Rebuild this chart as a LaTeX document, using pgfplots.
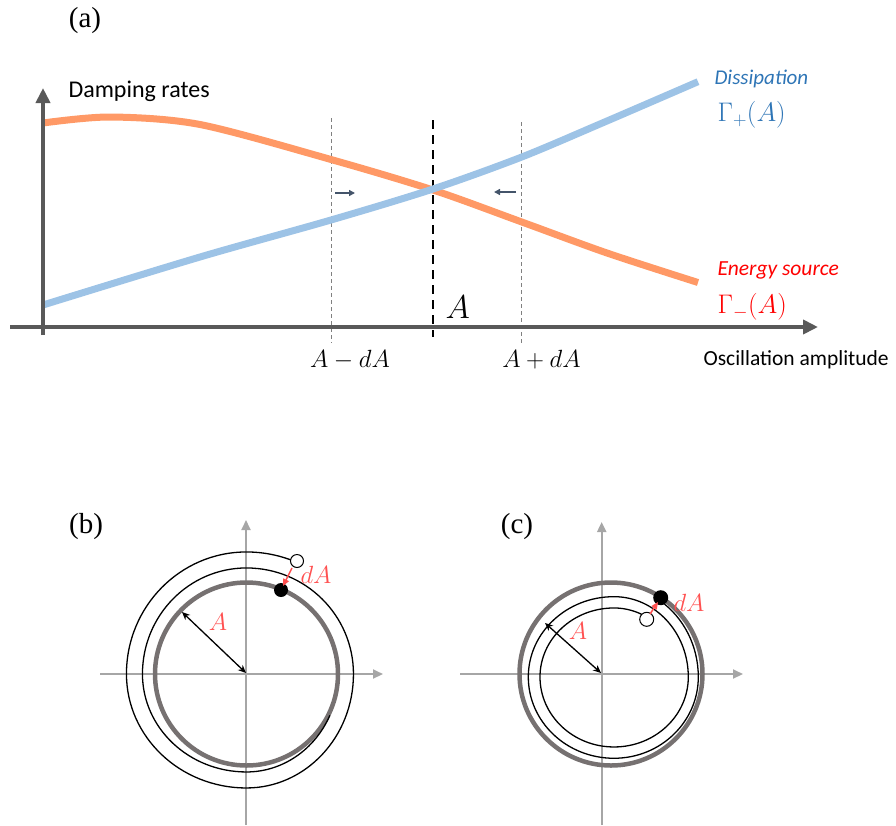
\documentclass[border=0pt]{standalone}
\usepackage{fontspec}
\setmainfont{Liberation Serif}
\newfontfamily\calibri{Carlito}
\usepackage{graphicx}
\usepackage{pgfplots}
\pgfplotsset{compat=1.18}
\usetikzlibrary{arrows.meta}

\definecolor{axdark}{RGB}{89,89,89}
\definecolor{orangec}{RGB}{255,153,102}
\definecolor{bluec}{RGB}{157,195,230}
\definecolor{bluetxt}{RGB}{46,117,182}
\definecolor{redtxt}{RGB}{255,0,0}
\definecolor{redarr}{RGB}{255,80,80}
\definecolor{slate}{RGB}{68,84,106}
\definecolor{ringgray}{RGB}{118,113,113}
\definecolor{lightax}{RGB}{166,166,166}
\definecolor{dashgray}{RGB}{128,128,128}

\newcommand{\fs}[1]{\fontsize{#1}{#1}\selectfont}

\begin{document}
\begin{tikzpicture}
\begin{axis}[x=1pt, y=1pt, xmin=0, xmax=896, ymin=0, ymax=825,
  y dir=reverse, hide axis, clip=false, scale only axis]
\coordinate (ll) at (0,825);
\coordinate (ur) at (896,0);

% ---------- (a) damping rates versus amplitude ----------
\node[anchor=center, font=\fs{29}] at (85,21) {(a)};

% reference lines at A-dA, A, A+dA
\draw[dashgray, line width=0.9pt, dash pattern=on 4pt off 3pt] (331,118) -- (331,343);
\draw[dashgray, line width=0.9pt, dash pattern=on 4pt off 3pt] (521,122) -- (521,343);
\draw[black, line width=2.6pt, dash pattern=on 9pt off 6pt] (433,120) -- (433,337);

% energy source Gamma_-(A)
\addplot[orangec, line width=7pt, smooth, no markers] coordinates {
 (43,123) (110,117) (200,124.5) (331,159.5) (433,190) (521,221.7)
 (607,253) (698,282.5)};

% dissipation Gamma_+(A)
\addplot[bluec, line width=7pt, smooth, no markers] coordinates {
 (43,305) (200,257) (331,220) (433,189) (521,157.3) (600,124) (698,81.7)};

% axes
\draw[axdark, line width=4pt, -{Triangle[length=15pt,width=14pt]}] (43,335) -- (43,88);
\draw[axdark, line width=4pt, -{Triangle[length=15pt,width=14pt]}] (10,327) -- (818,327);

% small arrows towards the fixed point
\draw[slate, line width=1.5pt, -{Triangle[length=6pt,width=6pt]}] (335,193) -- (355,193);
\draw[slate, line width=1.5pt, -{Triangle[length=6pt,width=6pt]}] (516,192) -- (494,192);

% labels
\node[anchor=base west, font=\calibri\fs{24}] at (65,97) {Damping rates};
\node[anchor=base west, font=\calibri\fs{21.5}] at (700,365) {Oscillation amplitude};
\node[anchor=base west, bluetxt, font=\calibri\itshape\fs{21}] at (711,84) {Dissipation};
\node[anchor=base west, bluetxt, font=\fs{24}] at (714,121) {\scalebox{1.08}{$\Gamma_{+}(A)$}};
\node[anchor=base west, redtxt, font=\calibri\itshape\fs{21.5}] at (714,275) {Energy source};
\node[anchor=base west, redtxt, font=\fs{24}] at (714,313) {\scalebox{1.08}{$\Gamma_{-}(A)$}};
\node[anchor=base west, font=\fs{24.88}] at (442,318) {\scalebox{1.33}{$A$}};
\node[anchor=base, font=\fs{23.5}] at (350,367) {$A-dA$};
\node[anchor=base, font=\fs{23.5}] at (541.5,367) {$A+dA$};

% ---------- (b) growing oscillation ----------
\node[anchor=center, font=\fs{29}] at (86,527) {(b)};
\draw[lightax, line width=2pt, -{Triangle[length=10pt,width=9pt]}] (100,674) -- (383,674);
\draw[lightax, line width=2pt, -{Triangle[length=10pt,width=9pt]}] (246,825) -- (246,520);
\draw[ringgray, line width=4.5pt] (246.5,674) circle[radius=91.5pt];
% trajectory spiralling in from the open circle
\draw[black, line width=1.3pt] (297.3,562.5)
  arc[start angle=66, end angle=90, x radius=125pt, y radius=122pt]
  arc[start angle=90, end angle=180, x radius=120pt, y radius=122pt]
  arc[start angle=180, end angle=270, x radius=120pt, y radius=114pt]
  arc[start angle=270, end angle=360, x radius=107pt, y radius=114pt]
  arc[start angle=0, end angle=90, x radius=107pt, y radius=106pt]
  arc[start angle=90, end angle=180, x radius=104pt, y radius=106pt]
  arc[start angle=180, end angle=270, x radius=104pt, y radius=98pt]
  arc[start angle=270, end angle=335, x radius=92pt, y radius=98pt];
\fill[black] (281,590) circle[radius=7pt];
\draw[black, fill=white, line width=1pt] (297,561) circle[radius=6.5pt];
\draw[redarr, line width=1.5pt, -{Triangle[length=7pt,width=6pt]}] (292,568) -- (283,586);
\draw[black, line width=1.3pt, {Stealth[length=8pt,width=7pt]}-{Stealth[length=8pt,width=7pt]}] (182,612) -- (246,673);
\node[redarr, font=\fs{23}] at (316,575) {$dA$};
\node[redarr, font=\fs{23}] at (218,622) {$A$};

% ---------- (c) decaying oscillation ----------
\node[anchor=center, font=\fs{29}] at (517,527) {(c)};
\draw[lightax, line width=2pt, -{Triangle[length=10pt,width=9pt]}] (460,674) -- (743,674);
\draw[lightax, line width=2pt, -{Triangle[length=10pt,width=9pt]}] (601.7,825) -- (601.7,522);
\draw[ringgray, line width=4.5pt] (611,674) circle[radius=91.5pt];
% trajectory spiralling out from the open circle
\draw[black, line width=1.3pt] (647,617.2)
  arc[start angle=60, end angle=90, x radius=66pt, y radius=69pt]
  arc[start angle=90, end angle=180, x radius=74pt, y radius=69pt]
  arc[start angle=180, end angle=270, x radius=74pt, y radius=70pt]
  arc[start angle=270, end angle=360, x radius=74.3pt, y radius=70pt]
  arc[start angle=0, end angle=90, x radius=74.3pt, y radius=80.3pt]
  arc[start angle=90, end angle=180, x radius=85.7pt, y radius=80.3pt]
  arc[start angle=180, end angle=270, x radius=85.7pt, y radius=81.3pt]
  arc[start angle=270, end angle=360, x radius=84.3pt, y radius=81.3pt]
  arc[start angle=0, end angle=57, x radius=84.3pt, y radius=91pt];
\fill[black] (660.7,597.7) circle[radius=7.5pt];
\draw[black, fill=white, line width=1pt] (646.7,619.3) circle[radius=7pt];
\draw[redarr, line width=1.5pt, -{Triangle[length=7pt,width=6pt]}] (650,614) -- (658,602);
\draw[black, line width=1.3pt, {Stealth[length=8pt,width=7pt]}-{Stealth[length=8pt,width=7pt]}] (545,623) -- (601,673);
\node[redarr, font=\fs{23}] at (689,603) {$dA$};
\node[redarr, font=\fs{23}] at (578,631) {$A$};
\end{axis}
\pgfresetboundingbox
\path (ll) rectangle (ur);
\end{tikzpicture}
\end{document}
